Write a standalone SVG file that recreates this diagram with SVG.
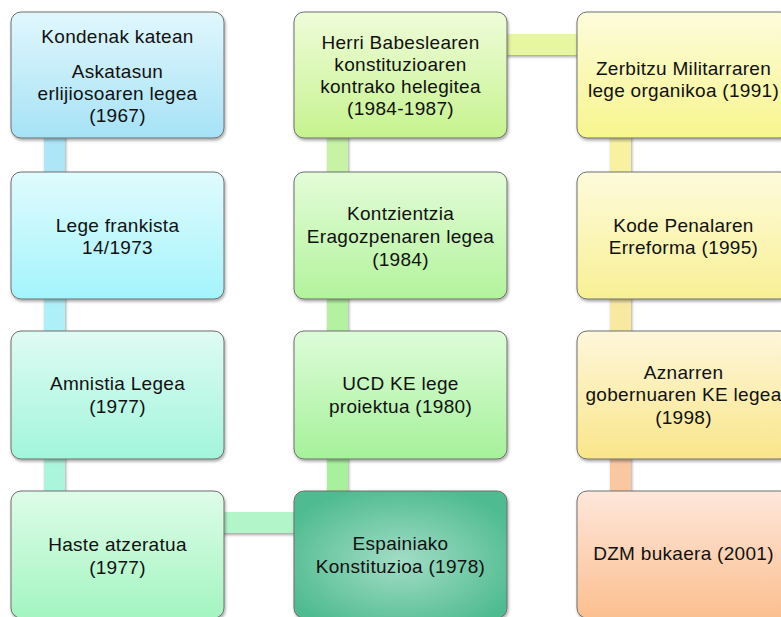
<svg xmlns="http://www.w3.org/2000/svg" width="781" height="617" viewBox="0 0 781 617">
<style>
.box{stroke:#6f6f6f;stroke-width:1}
.lbl{font-family:"Liberation Sans",Arial,sans-serif;font-size:19px;letter-spacing:0.3px;fill:#111;text-anchor:middle}
</style>
<defs>
<filter id="sh" x="-10%" y="-10%" width="125%" height="130%">
<feDropShadow dx="1" dy="2" stdDeviation="1.6" flood-color="#000" flood-opacity="0.35"/>
</filter>
<linearGradient id="g11" x1="0" y1="0" x2="0" y2="1"><stop offset="0" stop-color="#e1f7fd"/><stop offset="1" stop-color="#a6e2f6"/></linearGradient>
<linearGradient id="g12" x1="0" y1="0" x2="0" y2="1"><stop offset="0" stop-color="#e0fbfd"/><stop offset="1" stop-color="#a4f4fc"/></linearGradient>
<linearGradient id="g13" x1="0" y1="0" x2="0" y2="1"><stop offset="0" stop-color="#dffbf3"/><stop offset="1" stop-color="#a2f5db"/></linearGradient>
<linearGradient id="g14" x1="0" y1="0" x2="0" y2="1"><stop offset="0" stop-color="#defce8"/><stop offset="1" stop-color="#a3f5c1"/></linearGradient>
<linearGradient id="g21" x1="0" y1="0" x2="0" y2="1"><stop offset="0" stop-color="#effcda"/><stop offset="1" stop-color="#c6f38e"/></linearGradient>
<linearGradient id="g22" x1="0" y1="0" x2="0" y2="1"><stop offset="0" stop-color="#e3fcd8"/><stop offset="1" stop-color="#b3f39c"/></linearGradient>
<linearGradient id="g23" x1="0" y1="0" x2="0" y2="1"><stop offset="0" stop-color="#ddfcd9"/><stop offset="1" stop-color="#a6f19a"/></linearGradient>
<radialGradient id="g24" cx="0.5" cy="0.55" r="0.6"><stop offset="0" stop-color="#a2ddc6"/><stop offset="1" stop-color="#4fbb90"/></radialGradient>
<linearGradient id="g31" x1="0" y1="0" x2="0" y2="1"><stop offset="0" stop-color="#fdfcdc"/><stop offset="1" stop-color="#f7f58c"/></linearGradient>
<linearGradient id="g32" x1="0" y1="0" x2="0" y2="1"><stop offset="0" stop-color="#fefbdb"/><stop offset="1" stop-color="#f8f095"/></linearGradient>
<linearGradient id="g33" x1="0" y1="0" x2="0" y2="1"><stop offset="0" stop-color="#fef6da"/><stop offset="1" stop-color="#f9e68a"/></linearGradient>
<linearGradient id="g34" x1="0" y1="0" x2="0" y2="1"><stop offset="0" stop-color="#fee7db"/><stop offset="1" stop-color="#fbbf8f"/></linearGradient>
</defs>
<rect width="781" height="617" fill="#ffffff"/>
<g id="connectors" filter="url(#sh)">
<rect x="44" y="130" width="21" height="50" fill="#ace6f7"/>
<rect x="44" y="290" width="21" height="50" fill="#aef0f8"/>
<rect x="44" y="450" width="21" height="50" fill="#aaf5dc"/>
<rect x="215" y="512" width="88" height="21" fill="#b2f5c8"/>
<rect x="327" y="130" width="21" height="50" fill="#c8f3a6"/>
<rect x="327" y="290" width="21" height="50" fill="#b4f2a2"/>
<rect x="327" y="450" width="21" height="50" fill="#a9f09e"/>
<rect x="498" y="34" width="88" height="21" fill="#e6f7a0"/>
<rect x="610" y="130" width="21" height="50" fill="#f8f2a0"/>
<rect x="610" y="290" width="21" height="50" fill="#f8e9a0"/>
<rect x="610" y="450" width="21" height="50" fill="#f9c8a0"/>
</g>
<g id="n11"><rect class="box" x="11" y="12" width="213" height="126" rx="10" fill="url(#g11)" filter="url(#sh)"/>
<text class="lbl" x="117.5" y="43">Kondenak katean</text>
<text class="lbl" x="117.5" y="78">Askatasun</text>
<text class="lbl" x="117.5" y="100">erlijiosoaren legea</text>
<text class="lbl" x="117.5" y="122">(1967)</text></g>
<g id="n12"><rect class="box" x="11" y="172" width="213" height="127" rx="10" fill="url(#g12)" filter="url(#sh)"/>
<text class="lbl" x="117.5" y="232">Lege frankista</text>
<text class="lbl" x="117.5" y="254">14/1973</text></g>
<g id="n13"><rect class="box" x="11" y="331" width="213" height="128" rx="10" fill="url(#g13)" filter="url(#sh)"/>
<text class="lbl" x="117.5" y="390">Amnistia Legea</text>
<text class="lbl" x="117.5" y="413">(1977)</text></g>
<g id="n14"><rect class="box" x="11" y="491" width="213" height="127" rx="10" fill="url(#g14)" filter="url(#sh)"/>
<text class="lbl" x="117.5" y="551">Haste atzeratua</text>
<text class="lbl" x="117.5" y="574">(1977)</text></g>
<g id="n21"><rect class="box" x="294" y="12" width="213" height="126" rx="10" fill="url(#g21)" filter="url(#sh)"/>
<text class="lbl" x="400.5" y="49">Herri Babeslearen</text>
<text class="lbl" x="400.5" y="71">konstituzioaren</text>
<text class="lbl" x="400.5" y="93">kontrako helegitea</text>
<text class="lbl" x="400.5" y="115">(1984-1987)</text></g>
<g id="n22"><rect class="box" x="294" y="172" width="213" height="127" rx="10" fill="url(#g22)" filter="url(#sh)"/>
<text class="lbl" x="400.5" y="219.5">Kontzientzia</text>
<text class="lbl" x="400.5" y="242.5">Eragozpenaren legea</text>
<text class="lbl" x="400.5" y="265.5">(1984)</text></g>
<g id="n23"><rect class="box" x="294" y="331" width="213" height="128" rx="10" fill="url(#g23)" filter="url(#sh)"/>
<text class="lbl" x="400.5" y="390">UCD KE lege</text>
<text class="lbl" x="400.5" y="413">proiektua (1980)</text></g>
<g id="n24"><rect class="box" x="294" y="491" width="213" height="127" rx="10" fill="url(#g24)" filter="url(#sh)"/>
<text class="lbl" x="400.5" y="550">Espainiako</text>
<text class="lbl" x="400.5" y="573">Konstituzioa (1978)</text></g>
<g id="n31"><rect class="box" x="577" y="12" width="213" height="126" rx="10" fill="url(#g31)" filter="url(#sh)"/>
<text class="lbl" x="683.5" y="75">Zerbitzu Militarraren</text>
<text class="lbl" x="683.5" y="97">lege organikoa (1991)</text></g>
<g id="n32"><rect class="box" x="577" y="172" width="213" height="127" rx="10" fill="url(#g32)" filter="url(#sh)"/>
<text class="lbl" x="683.5" y="232">Kode Penalaren</text>
<text class="lbl" x="683.5" y="254">Erreforma (1995)</text></g>
<g id="n33"><rect class="box" x="577" y="331" width="213" height="128" rx="10" fill="url(#g33)" filter="url(#sh)"/>
<text class="lbl" x="683.5" y="378.5">Aznarren</text>
<text class="lbl" x="683.5" y="401">gobernuaren KE legea</text>
<text class="lbl" x="683.5" y="423.5">(1998)</text></g>
<g id="n34"><rect class="box" x="577" y="491" width="213" height="127" rx="10" fill="url(#g34)" filter="url(#sh)"/>
<text class="lbl" x="683.5" y="560">DZM bukaera (2001)</text></g>
</svg>
